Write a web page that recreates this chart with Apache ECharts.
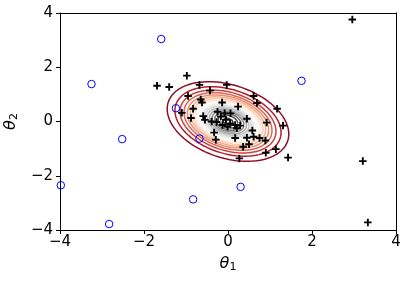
<!DOCTYPE html>
<html><head><meta charset="utf-8">
<script src="https://cdn.jsdelivr.net/npm/echarts@6/dist/echarts.min.js"></script>
<style>html,body{margin:0;padding:0;background:#fff}#c{width:407px;height:282px}</style>
</head><body><div id="c"></div>
<script>
// Black "+" samples
const plusX = [-0.98,-1.69,-1.40,-0.68,-0.03,-0.43,-0.95,0.61,-0.65,-0.62,0.69,-0.14,0.24,1.17,-1.10,-0.83,-0.25,-0.08,0.06,-0.88,-0.59,-0.55,0.45,-0.39,-0.27,-0.05,0.05,-0.13,-0.01,0.17,0.29,0.92,1.31,0.58,-0.33,-0.29,0.17,0.45,0.61,0.75,0.89,0.50,0.36,1.14,0.90,0.27,1.43,2.96,3.21,3.33,-0.17,0.21];
const plusY = [1.69,1.32,1.27,1.35,1.35,1.14,0.94,0.94,0.81,0.70,0.68,0.70,0.55,0.47,0.32,0.47,0.36,0.30,0.30,0.13,0.20,0.06,0.10,0.00,-0.02,0.06,-0.07,-0.13,-0.19,-0.13,-0.15,-0.04,-0.15,-0.33,-0.41,-0.67,-0.61,-0.60,-0.56,-0.61,-0.70,-0.84,-0.93,-1.02,-1.15,-1.36,-1.33,3.76,-1.46,-3.72,0.18,-0.25];
// Blue open circles
const circleX = [-1.59,-3.25,1.75,-1.24,-2.52,-0.68,-3.98,-0.83,0.30,-2.83];
const circleY = [3.04,1.38,1.50,0.49,-0.65,-0.63,-2.35,-2.87,-2.41,-3.78];
// Gaussian density whose contours are drawn
const gaussMean = [0, 0];
const gaussCov = [[0.36, -0.115], [-0.115, 0.37]];
const contourLevels = [0.025,0.05,0.075,0.1,0.125,0.15,0.175,0.2,0.225,0.25,0.275,0.3,0.325,0.35,0.375,0.4,0.425,0.45];
const levelNormMin = 0, levelNormMax = 0.475;
const axisTicks = [-4, -2, 0, 2, 4];

const RdGy = ['#67001f','#b2182b','#d6604d','#f4a582','#fddbc7','#ffffff','#e0e0e0','#bababa','#878787','#4d4d4d','#1a1a1a'];
function hex2rgb(h){return [parseInt(h.slice(1,3),16),parseInt(h.slice(3,5),16),parseInt(h.slice(5,7),16)];}
function cmap(t){
  t = Math.max(0, Math.min(1, t));
  const p = t * (RdGy.length - 1), i = Math.min(Math.floor(p), RdGy.length - 2), f = p - i;
  const a = hex2rgb(RdGy[i]), b = hex2rgb(RdGy[i+1]);
  return 'rgb(' + a.map((v,k)=>Math.round(v + (b[k]-v)*f)).join(',') + ')';
}
const s11 = gaussCov[0][0], s12 = gaussCov[0][1], s22 = gaussCov[1][1];
const det = s11*s22 - s12*s12;
const pmax = 1/(2*Math.PI*Math.sqrt(det));
const L11 = Math.sqrt(s11), L21 = s12/L11, L22 = Math.sqrt(s22 - L21*L21);
function ellipse(level){
  const d = Math.sqrt(-2*Math.log(level/pmax));
  const pts = [];
  const N = 180;
  for (let k = 0; k <= N; k++){
    const t = 2*Math.PI*k/N, u = d*Math.cos(t), v = d*Math.sin(t);
    pts.push([gaussMean[0] + L11*u, gaussMean[1] + L21*u + L22*v]);
  }
  return pts;
}
const series = [];
contourLevels.forEach(function(lv){
  if (lv >= pmax) return;
  series.push({type:'line', data: ellipse(lv), showSymbol:false, symbol:'none', smooth:false,
    lineStyle:{width:1.5, color: cmap((lv-levelNormMin)/(levelNormMax-levelNormMin))},
    silent:true, z:2, animation:false});
});
series.push({type:'scatter', data: plusX.map((x,i)=>[x, plusY[i]]),
  symbol:'path://M3,0H5V3H8V5H5V8H3V5H0V3H3Z', symbolSize:7.5,
  itemStyle:{color:'#000', opacity:1}, z:4, animation:false, silent:true});
series.push({type:'scatter', data: circleX.map((x,i)=>[x, circleY[i]]),
  symbol:'circle', symbolSize:7.5,
  itemStyle:{color:'rgba(0,0,0,0)', borderColor:'#0000ff', borderWidth:1, opacity:1}, z:5, animation:false, silent:true});

const font = 'DejaVu Sans';
const fmt = v => (v < 0 ? '\u2212' + Math.abs(v) : String(v));
const nameRich = {
  t:{fontFamily:font, fontStyle:'italic', fontSize:16, color:'#000'},
  s:{fontFamily:font, fontSize:11, color:'#000', padding:[8,0,0,0]}
};
const common = {type:'value', min:axisTicks[0], max:axisTicks[axisTicks.length-1], interval:2, splitLine:{show:false}};
const chart = echarts.init(document.getElementById('c'), null, {renderer:'canvas'});
chart.setOption({
  animation:false,
  backgroundColor:'#fff',
  grid:{left:60, right:11, top:13, bottom:52, outerBoundsMode:'none', containLabel:false},
  xAxis:[
    Object.assign({}, common, {position:'bottom',
      axisLine:{show:true, onZero:false, lineStyle:{color:'#000', width:1}},
      axisTick:{show:true, length:4, lineStyle:{color:'#000'}},
      axisLabel:{formatter:fmt, fontFamily:font, fontSize:15, color:'#000', margin:5},
      name:'{t|θ}{s|1}', nameLocation:'middle', nameGap:24, nameTextStyle:{rich:nameRich}}),
    Object.assign({}, common, {position:'top',
      axisLine:{show:true, onZero:false, lineStyle:{color:'#000', width:1}},
      axisTick:{show:false}, axisLabel:{show:false}})
  ],
  yAxis:[
    Object.assign({}, common, {position:'left',
      axisLine:{show:true, onZero:false, lineStyle:{color:'#000', width:1}},
      axisTick:{show:true, length:4, lineStyle:{color:'#000'}},
      axisLabel:{formatter:fmt, fontFamily:font, fontSize:15, color:'#000', margin:7},
      name:'{t|θ}{s|2}', nameLocation:'middle', nameGap:33, nameRotate:90, nameTextStyle:{rich:nameRich}}),
    Object.assign({}, common, {position:'right',
      axisLine:{show:true, onZero:false, lineStyle:{color:'#000', width:1}},
      axisTick:{show:false}, axisLabel:{show:false}})
  ],
  series: series
});
</script></body></html>
